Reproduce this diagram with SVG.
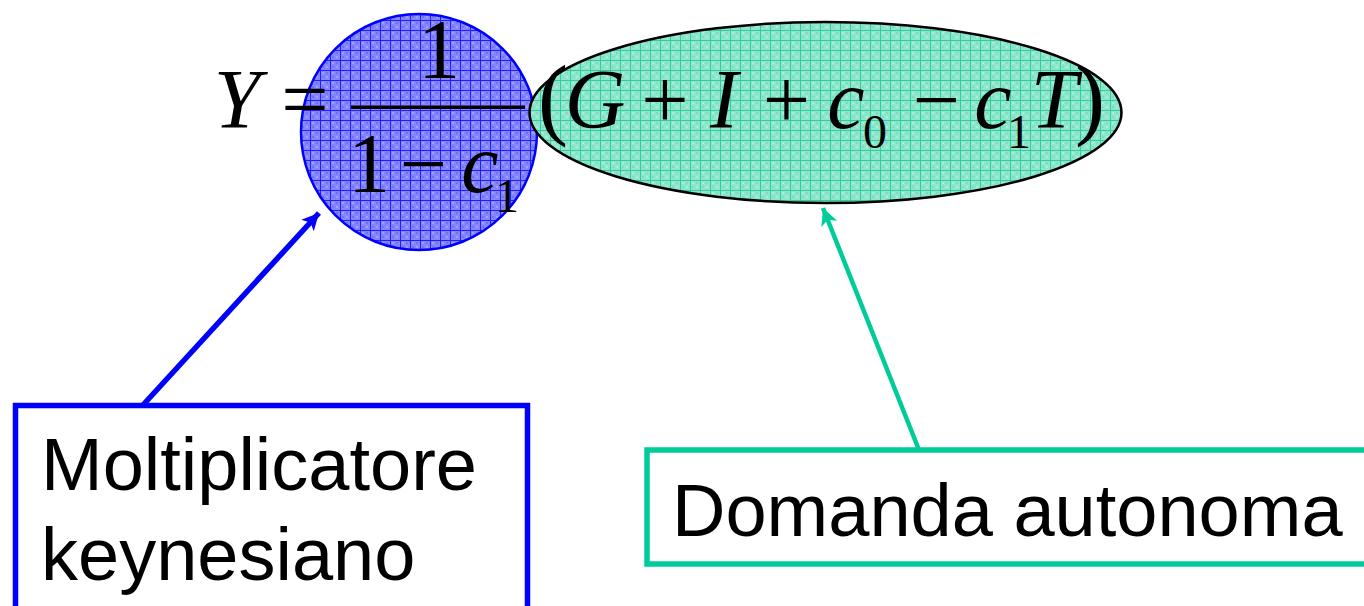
<svg xmlns="http://www.w3.org/2000/svg" width="1364" height="606" viewBox="0 0 1364 606">
  <style>
    .m { font-family: "Liberation Serif", "Times New Roman", serif; font-size: 84px; fill: #000; text-anchor: middle; }
    .i { font-style: italic; }
    .s { font-size: 48px; }
    .p { font-size: 90px; }
    .lbl { font-family: "Liberation Sans", Arial, sans-serif; fill: #000; }
  </style>
  <defs>
    <pattern id="pb" width="10" height="10" patternUnits="userSpaceOnUse">
      <rect width="10" height="10" fill="#8585FF"/>
      <rect x="2" y="2" width="2" height="2" fill="#A0A0FF"/>
      <rect x="6" y="6" width="2" height="2" fill="#A0A0FF"/>
      <rect x="6" y="2" width="2" height="2" fill="#7070FF"/>
      <rect x="2" y="6" width="2" height="2" fill="#7070FF"/>
      <path d="M0 0.5H10M0.5 0V10" stroke="#2020FF" stroke-width="1"/>
    </pattern>
    <pattern id="pg" width="10" height="10" patternUnits="userSpaceOnUse">
      <rect width="10" height="10" fill="#8EE7CD"/>
      <rect x="2" y="2" width="2" height="2" fill="#AAEEDA"/>
      <rect x="6" y="6" width="2" height="2" fill="#AAEEDA"/>
      <rect x="6" y="2" width="2" height="2" fill="#7ADFC2"/>
      <rect x="2" y="6" width="2" height="2" fill="#7ADFC2"/>
      <path d="M0 0.5H10M0.5 0V10" stroke="#33CC9C" stroke-width="1"/>
    </pattern>
    <marker id="ab" viewBox="0 0 10 10" refX="10" refY="5" markerWidth="21" markerHeight="17" markerUnits="userSpaceOnUse" orient="auto">
      <path d="M0 0L10 5L0 10L2.5 5Z" fill="#0000FF"/>
    </marker>
    <marker id="ag" viewBox="0 0 10 10" refX="10" refY="5" markerWidth="21" markerHeight="17" markerUnits="userSpaceOnUse" orient="auto">
      <path d="M0 0L10 5L0 10L2.5 5Z" fill="#00CC99"/>
    </marker>
  </defs>
  <rect width="1364" height="606" fill="#fff"/>

  <g id="multiplier-highlight">
    <circle cx="419" cy="132" r="118" fill="url(#pb)" stroke="#0000FF" stroke-width="2.5"/>
  </g>
  <g id="autonomous-highlight">
    <ellipse cx="825.5" cy="112.5" rx="296" ry="90.5" fill="url(#pg)" stroke="#000" stroke-width="2.5"/>
  </g>

  <g id="equation">
    <text class="m i" x="237" y="128">Y</text>
    <text class="m" x="305" y="128">=</text>
    <text class="m" x="439" y="78">1</text>
    <rect x="351" y="105.5" width="174" height="3.5" fill="#000"/>
    <text class="m" x="369" y="192">1</text>
    <text class="m" x="423.5" y="192">−</text>
    <text class="m i" x="480" y="192">c</text>
    <text class="m s" x="507" y="212">1</text>
    <text class="m p" x="553" y="128">(</text>
    <text class="m i" x="595" y="128">G</text>
    <text class="m" x="665" y="128">+</text>
    <text class="m i" x="724" y="128">I</text>
    <text class="m" x="786.5" y="128">+</text>
    <text class="m i" x="846" y="128">c</text>
    <text class="m s" x="875" y="148">0</text>
    <text class="m" x="936.5" y="128">−</text>
    <text class="m i" x="993" y="128">c</text>
    <text class="m s" x="1019" y="148">1</text>
    <text class="m i" x="1054" y="128">T</text>
    <text class="m p" x="1090" y="128">)</text>
  </g>

  <g id="connectors" fill="none">
    <line x1="143" y1="405" x2="319" y2="213" stroke="#0000FF" stroke-width="5.5" marker-end="url(#ab)"/>
    <line x1="919" y1="450" x2="823" y2="208" stroke="#00CC99" stroke-width="4.5" marker-end="url(#ag)"/>
  </g>

  <g id="box-moltiplicatore">
    <rect x="15.5" y="405.5" width="512" height="230" fill="#fff" stroke="#0000FF" stroke-width="5.5"/>
    <text class="lbl" x="41" y="490" font-size="74">Moltiplicatore</text>
    <text class="lbl" x="41" y="580" font-size="74">keynesiano</text>
  </g>

  <g id="box-domanda">
    <rect x="647" y="450" width="760" height="114" fill="#fff" stroke="#00CC99" stroke-width="5.5"/>
    <text class="lbl" x="672" y="536" font-size="74">Domanda autonoma</text>
  </g>
</svg>
